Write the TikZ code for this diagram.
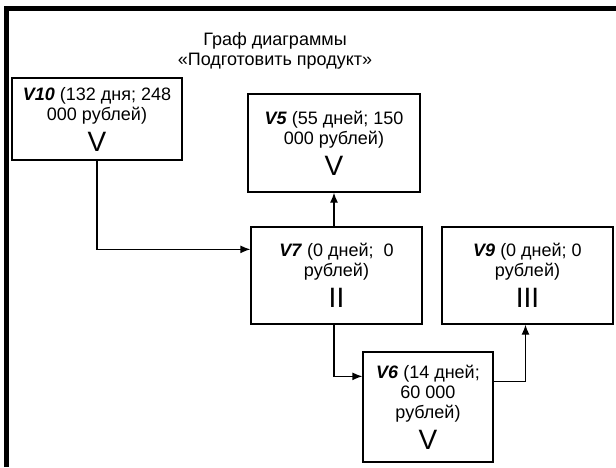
\documentclass[tikz,border=0pt]{standalone}
\usepackage{fontspec}
\setmainfont{Liberation Sans}
\usetikzlibrary{arrows.meta}

\newcommand{\vid}[1]{\textbf{\textit{#1}}}
\newcommand{\rnum}[1]{{\fontsize{28}{30}\selectfont #1}}

\tikzset{
  box/.style={draw, line width=1.3pt, align=center, inner sep=0pt,
    font=\fontsize{18}{20}\selectfont},
  link/.style={line width=1.3pt, ->, >={Latex[length=10pt,width=8pt]}}
}

\begin{document}
\begin{tikzpicture}[x=1pt, y=-1pt]

    \useasboundingbox (0,0) rectangle (616,467);

    % Рамка (верх и левый край)
    \draw[line width=5pt] (6,467) -- (6,8) -- (616,8);

    % Заголовок
    \node[align=center, font=\fontsize{18}{20}\selectfont] (title) at (275,51)
        {Граф диаграммы\\«Подготовить продукт»};

    % ==============================================
    % Вершины графа
    % ==============================================
    \node[box, minimum width=170pt, minimum height=82pt] (v10) at (97,119)
        {\vid{V10} (132 дня; 248\\000 рублей)\\[7pt]\rnum{V}};
    \node[box, minimum width=172pt, minimum height=98pt] (v5) at (334,143)
        {\vid{V5} (55 дней; 150\\000 рублей)\\[7pt]\rnum{V}};
    \node[box, minimum width=171pt, minimum height=97pt] (v7) at (336.5,275.5)
        {\vid{V7} (0 дней;\ \ 0\\рублей)\\[7pt]\rnum{II}};
    \node[box, minimum width=171pt, minimum height=97pt] (v9) at (527.5,275.5)
        {\vid{V9} (0 дней; 0\\рублей)\\[7pt]\rnum{III}};
    \node[box, minimum width=130pt, minimum height=110pt] (v6) at (428,407)
        {\vid{V6} (14 дней;\\60 000\\рублей)\\[7pt]\rnum{V}};

    % ==============================================
    % Связи
    % ==============================================
    \draw[link] (v10.south) |- ([yshift=-23pt]v7.north west);
    \draw[link] (v7.north -| v5.south) -- (v5.south);
    \draw[link] (v7.south -| v5.south) |- ([yshift=-25pt]v6.north west);
    \draw[link] ([yshift=-30pt]v6.north east) -| ([xshift=-2pt]v9.south);

\end{tikzpicture}
\end{document}
